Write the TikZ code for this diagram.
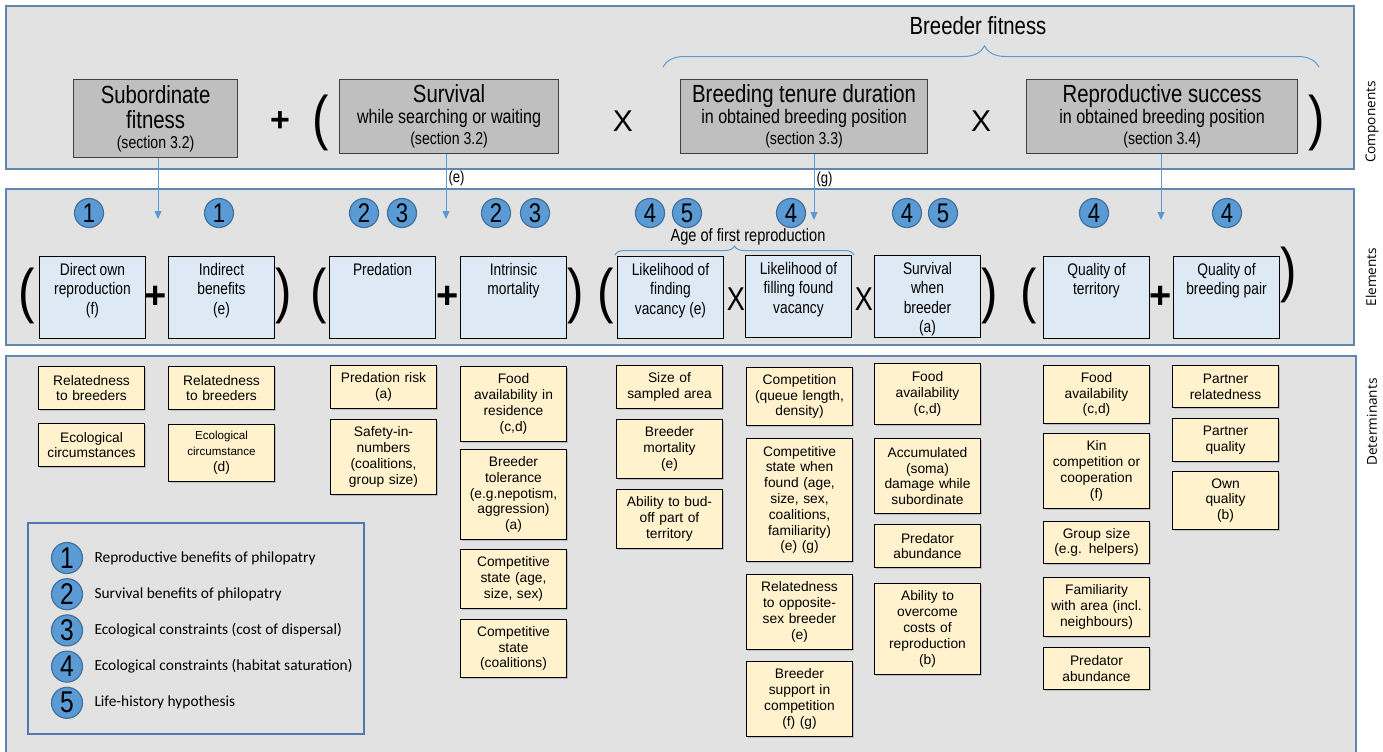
\documentclass[tikz,border=0pt]{standalone}
\usepackage{fontspec}
\setmainfont{Liberation Sans}
\newfontfamily\narrowfont[FakeStretch=0.82]{Liberation Sans}
\newfontfamily\califont{Carlito}
\newfontfamily\sidefont{Open Sans}
\definecolor{bandgray}{RGB}{226, 226, 226}
\definecolor{bandblue}{RGB}{98, 134, 180}
\definecolor{compgray}{RGB}{191, 191, 191}
\definecolor{elemblue}{RGB}{221, 234, 246}
\definecolor{detyellow}{RGB}{255, 242, 204}
\definecolor{hypblue}{RGB}{91, 155, 213}
\definecolor{hypedge}{RGB}{65, 113, 156}
\definecolor{linkblue}{RGB}{91, 155, 213}
\definecolor{legendblue}{RGB}{79, 120, 178}
\usetikzlibrary{positioning, arrows.meta, decorations.pathreplacing, shadows}

\begin{document}
\begin{tikzpicture}[x=0.5pt, y=-0.5pt,
  band/.style={draw=bandblue, fill=bandgray, line width=0.8pt},
  comp/.style={draw=black!75, fill=compgray, line width=0.6pt, anchor=north west, align=center, inner sep=0pt,
    font=\narrowfont\fontsize{12.4}{10.5}\selectfont},
  elem/.style={draw=black, fill=elemblue, line width=0.5pt, anchor=north west, inner xsep=0.5pt, inner ysep=3.5pt,
    font=\narrowfont\fontsize{8.4}{9.6}\selectfont,
    execute at begin node={\begin{minipage}[t][34pt][t]{52pt}\centering}, execute at end node={\end{minipage}}},
  det/.style={draw=black, fill=detyellow, line width=0.5pt, anchor=north west, text width=50pt, align=center, inner xsep=1.5pt, inner ysep=0pt,
    font=\fontsize{6.9}{7.9}\selectfont, drop shadow={shadow xshift=0.5pt, shadow yshift=-0.5pt, fill=black!40}},
  hyp/.style={circle, draw=hypedge, fill=hypblue, line width=0.6pt, minimum size=14.5pt, inner sep=0pt, font=\narrowfont\fontsize{13.5}{13.5}\selectfont},
  paren/.style={inner sep=0pt, font=\narrowfont\fontsize{30}{30}\selectfont},
  plus/.style={inner sep=0pt, font=\bfseries\fontsize{17}{17}\selectfont},
  times/.style={inner sep=0pt, font=\fontsize{15}{15}\selectfont},
  link/.style={draw=linkblue, line width=0.5pt, -{Triangle[length=4pt, width=3.5pt]}},
  brace/.style={draw=linkblue, line width=0.5pt, decorate},
  side/.style={rotate=90, font=\sidefont\fontsize{6.8}{8}\selectfont},
  small/.style={inner sep=1pt, font=\narrowfont\fontsize{8}{8}\selectfont}]

  \useasboundingbox (0,0) rectangle (1383,751);

  % Bands
  \draw[band] (6,6) rectangle (1354,169);
  \draw[band] (6,189) rectangle (1354,345);
  \draw[band] (6,356) rectangle (1356,770);
  \node[side] (complabel) at (1372,122) {Components};
  \node[side] (elemlabel) at (1371,277) {Elements};
  \node[side] (detlabel) at (1372,422) {Determinants};

  % Components
  \node[font=\narrowfont\fontsize{12.4}{12}\selectfont] (breederfit) at (978,26) {Breeder fitness};
  \draw[brace, decoration={brace, amplitude=10.5pt, aspect=0.49}] (663,67) -- (1319,67);
  \node[comp, font=\narrowfont\fontsize{12.4}{12.5}\selectfont, minimum width=82pt, minimum height=39pt] (sub) at (73,79) {
    Subordinate\\fitness\\[-2.5pt]
    {\fontsize{8.6}{8}\selectfont (section 3.2)}};
  \node[plus] (op1) at (280,122) {+};
  \node[paren] (op2) at (321,123) {(};
  \node[comp, minimum width=109.5pt, minimum height=37pt] (surv) at (339,79) {
    Survival\\
    {\fontsize{9.8}{10.5}\selectfont while searching or waiting}\\
    {\fontsize{8.6}{8}\selectfont (section 3.2)}};
  \node[times] (op3) at (623,121) {X};
  \node[comp, minimum width=123.5pt, minimum height=37pt] (tenure) at (680,79) {
    Breeding tenure duration\\
    {\fontsize{9.8}{10.5}\selectfont in obtained breeding position}\\
    {\fontsize{8.6}{8}\selectfont (section 3.3)}};
  \node[times] (op4) at (981,121) {X};
  \node[comp, minimum width=135.5pt, minimum height=37pt] (repro) at (1026,79) {
    Reproductive success\\
    {\fontsize{9.8}{10.5}\selectfont in obtained breeding position}\\
    {\fontsize{8.6}{8}\selectfont (section 3.4)}};
  \node[paren] (op5) at (1317,123) {)};

  % Links down to the elements
  \coordinate (subend) at (158,219);
  \coordinate (survend) at (446,219);
  \coordinate (tenureend) at (814,220);
  \coordinate (reproend) at (1161,220);
  \draw[link] (sub.south -| subend) -- (subend);
  \draw[link] (surv.south -| survend) -- node[small, right, pos=0.38] {(e)} (survend);
  \draw[link] (tenure.south -| tenureend) -- node[small, right, pos=0.38] {(g)} (tenureend);
  \draw[link] (repro.south -| reproend) -- (reproend);

  % Elements
  \foreach \x/\d [count=\i] in {89/1, 219/1, 364/2, 402/3, 496/2, 535/3, 650/4, 687/5, 791/4, 907/4, 943/5, 1094/4, 1227/4}
    \node[hyp] (hyp\i) at (\x,213) {\d};
  \node[font=\narrowfont\fontsize{8.9}{8}\selectfont] (agefirst) at (748,237) {Age of first reproduction};
  \draw[brace, decoration={brace, amplitude=4.5pt}] (615,255) -- (854,255);

  \node[paren] (ep1) at (27,296) {(};
  \node[elem] (direct) at (39,256) {Direct own\\reproduction\\(f)};
  \node[plus, font=\bfseries\fontsize{19}{19}\selectfont] (ep2) at (156,297) {+};
  \node[elem] (indirect) at (168,256) {Indirect\\benefits\\(e)};
  \node[paren] (ep3) at (284,296) {)};
  \node[paren] (ep4) at (319,296) {(};
  \node[elem] (predation) at (329,256) {Predation};
  \node[plus, font=\bfseries\fontsize{19}{19}\selectfont] (ep5) at (448,297) {+};
  \node[elem] (intrinsic) at (460,256) {Intrinsic\\mortality};
  \node[paren] (ep6) at (576,296) {)};
  \node[paren] (ep7) at (606,296) {(};
  \node[elem] (finding) at (617,256) {Likelihood of\\finding\\vacancy (e)};
  \node[times, font=\narrowfont\fontsize{16.5}{16}\selectfont] (ep8) at (736,299) {X};
  \node[elem] (filling) at (745,255) {Likelihood of\\filling found\\vacancy};
  \node[times, font=\narrowfont\fontsize{16.5}{16}\selectfont] (ep9) at (864,299) {X};
  \node[elem] (breedsurv) at (874,255) {Survival\\when\\breeder\\(a)};
  \node[paren] (ep10) at (990,296) {)};
  \node[paren] (ep11) at (1029,296) {(};
  \node[elem] (territory) at (1043,256) {Quality of\\territory};
  \node[plus, font=\bfseries\fontsize{19}{19}\selectfont] (ep12) at (1161,297) {+};
  \node[elem] (pair) at (1173,256) {Quality of\\breeding pair};
  \node[paren] (ep13) at (1289,275) {)};

  % Determinants
  \node[det, minimum height=21.5pt] (rel1) at (38,366) {Relatedness\\to breeders};
  \node[det, minimum height=21.5pt] (eco1) at (38,423) {Ecological\\circumstances};
  \node[det, minimum height=21.5pt] (rel2) at (168,366) {Relatedness\\to breeders};
  \node[det, minimum height=28.5pt] (eco2) at (168,424) {{\fontsize{5.8}{7.5}\selectfont Ecological\\circumstance}\\(d)};
  \node[det, minimum height=21.5pt] (predrisk) at (330,365) {Predation risk\\(a)};
  \node[det, minimum height=37.5pt] (safety) at (330,419) {Safety-in-\\numbers\\(coalitions,\\group size)};
  \node[det, minimum height=37.5pt] (foodres) at (460,366) {Food\\availability in\\residence\\(c,d)};
  \node[det, minimum height=45pt] (tolerance) at (460,449) {Breeder\\tolerance\\(e.g.nepotism,\\aggression)\\(a)};
  \node[det, minimum height=29.5pt] (compage) at (460,549) {Competitive\\state (age,\\size, sex)};
  \node[det, minimum height=29pt] (compcoal) at (460,619) {Competitive\\state\\(coalitions)};
  \node[det, minimum height=21.5pt] (sampled) at (616,365) {Size of\\sampled area};
  \node[det, minimum height=29.5pt] (breedmort) at (616,419) {Breeder\\mortality\\(e)};
  \node[det, minimum height=29.5pt] (budoff) at (616,489) {Ability to bud-\\off part of\\territory};
  \node[det, minimum height=29pt] (queue) at (746,367) {Competition\\(queue length,\\density)};
  \node[det, minimum height=61.5pt] (compfound) at (746,438) {Competitive\\state when\\found (age,\\size, sex,\\coalitions,\\familiarity)\\(e) (g)};
  \node[det, minimum height=37.5pt] (oppsex) at (746,574) {Relatedness\\to opposite-\\sex breeder\\(e)};
  \node[det, minimum height=37.5pt] (support) at (746,661) {Breeder\\support in\\competition\\(f) (g)};
  \node[det, minimum height=30.5pt] (foodbr) at (874,363) {Food\\availability\\(c,d)};
  \node[det, minimum height=37.5pt] (damage) at (874,438) {Accumulated\\(soma)\\damage while\\subordinate};
  \node[det, minimum height=21.5pt] (predab1) at (874,524) {Predator\\abundance};
  \node[det, minimum height=45.5pt] (overcome) at (874,583) {Ability to\\overcome\\costs of\\reproduction\\(b)};
  \node[det, minimum height=29pt] (foodter) at (1043,365) {Food\\availability\\(c,d)};
  \node[det, minimum height=37.5pt] (kin) at (1043,433) {Kin\\competition or\\cooperation\\(f)};
  \node[det, minimum height=21pt] (groupsize) at (1043,521) {Group size\\(e.g. helpers)};
  \node[det, minimum height=29.5pt] (familiar) at (1043,577) {Familiarity\\with area (incl.\\neighbours)};
  \node[det, minimum height=21pt] (predab2) at (1043,647) {Predator\\abundance};
  \node[det, minimum height=21pt] (partnerrel) at (1172,365) {Partner\\relatedness};
  \node[det, minimum height=21.5pt] (partnerq) at (1172,418) {Partner\\quality};
  \node[det, minimum height=29pt] (ownq) at (1172,471) {Own\\quality\\(b)};

  % Legend
  \draw[draw=legendblue, line width=1pt] (28,523) rectangle (364,734);
  \foreach \d/\txt in {1/Reproductive benefits of philopatry, 2/Survival benefits of philopatry,
      3/Ecological constraints (cost of dispersal), 4/Ecological constraints (habitat saturation), 5/Life-history hypothesis} {
    \node[hyp, minimum size=15.5pt, font=\narrowfont\fontsize{15}{15}\selectfont] (leg\d) at (67,{558+(\d-1)*36.2}) {\d};
    \node[right=5.5pt of leg\d, inner sep=0pt, font=\califont\fontsize{7.7}{8}\selectfont] (legtxt\d) {\txt};
  }
\end{tikzpicture}
\end{document}
